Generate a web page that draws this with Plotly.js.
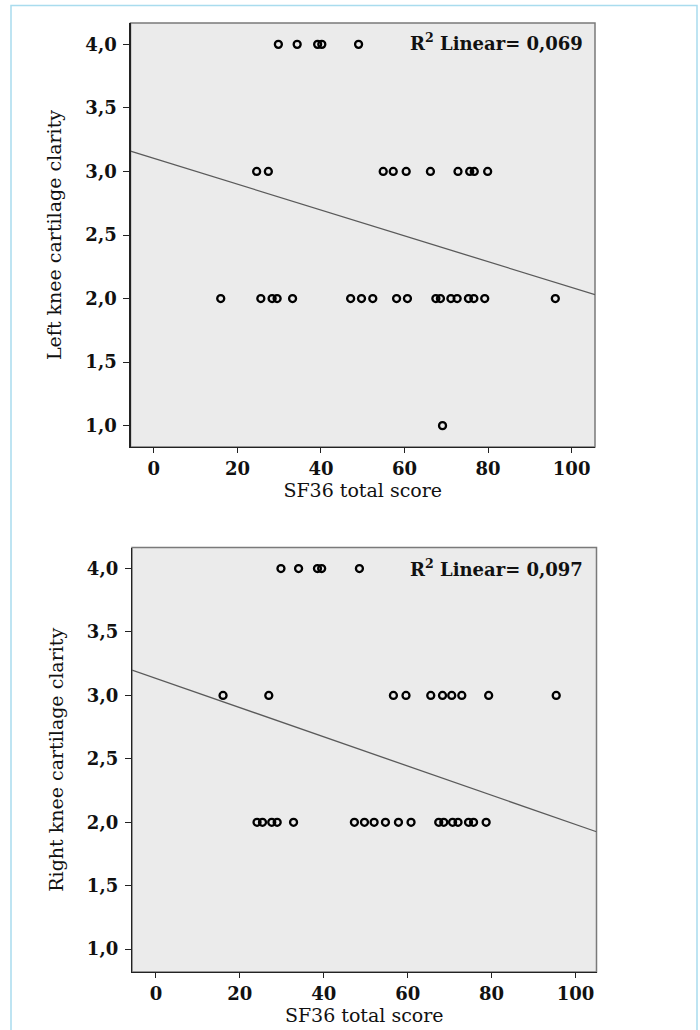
<!DOCTYPE html>
<html>
<head>
<meta charset="utf-8">
<script src="https://cdn.plot.ly/plotly-3.0.1.min.js"></script>
<style>
  html, body { margin: 0; padding: 0; background: #ffffff; }
  #chart { width: 700px; height: 1030px; }
</style>
</head>
<body>
<div id="chart"></div>
<script>
// ---- Data ----
// Left knee (top panel): SF36 total score vs cartilage clarity
const leftScore = [
  29.8, 34.3, 39.2, 40.2, 49.0,
  24.6, 27.4, 54.9, 57.3, 60.4, 66.2, 72.8, 75.6, 76.7, 79.9,
  16.0, 25.6, 28.3, 29.5, 33.2, 47.1, 49.7, 52.4, 58.1, 60.7, 67.5, 68.6, 71.1, 72.6, 75.3, 76.6, 79.2, 96.1,
  69.1
];
const leftClarity = [
  4, 4, 4, 4, 4,
  3, 3, 3, 3, 3, 3, 3, 3, 3, 3,
  2, 2, 2, 2, 2, 2, 2, 2, 2, 2, 2, 2, 2, 2, 2, 2, 2, 2,
  1
];
// Right knee (bottom panel)
const rightScore = [
  29.8, 34.0, 38.5, 39.5, 48.5,
  16.0, 26.9, 56.6, 59.6, 65.5, 68.3, 70.5, 72.9, 79.3, 95.4,
  24.1, 25.4, 27.6, 28.9, 32.8, 47.3, 49.7, 52.0, 54.7, 57.8, 60.8, 67.4, 68.6, 70.7, 72.0, 74.5, 75.7, 78.7
];
const rightClarity = [
  4, 4, 4, 4, 4,
  3, 3, 3, 3, 3, 3, 3, 3, 3, 3,
  2, 2, 2, 2, 2, 2, 2, 2, 2, 2, 2, 2, 2, 2, 2, 2, 2, 2
];
// Fit lines (intercept, slope) and R² as shown
const leftFit = [3.103, -0.01016];
const rightFit = [3.134, -0.01151];
const leftR2 = "0,069";
const rightR2 = "0,097";
const xTitle = "SF36 total score";
const leftYTitle = "Left knee cartilage clarity";
const rightYTitle = "Right knee cartilage clarity";
const yTicks = [1.0, 1.5, 2.0, 2.5, 3.0, 3.5, 4.0];
const xTicks = [0, 20, 40, 60, 80, 100];

// ---- Layout helpers ----
const W = 700, H = 1030;
const px = v => v / W;
const py = v => 1 - v / H;

const xRangeTop = [-5.6, 105.6];
const xRangeBot = [-5.7, 105.0];
const yRangeTop = [0.832, 4.168];
const yRangeBot = [0.82, 4.166];

function fitLine(fit, range, xa, ya) {
  const xs = [range[0], range[1]];
  return {
    x: xs, y: xs.map(v => fit[0] + fit[1] * v),
    xaxis: xa, yaxis: ya, mode: 'lines', type: 'scatter',
    line: { color: '#5a5a5a', width: 1.3 }, hoverinfo: 'skip', showlegend: false
  };
}
function points(xs, ys, xa, ya) {
  return {
    x: xs, y: ys, xaxis: xa, yaxis: ya, mode: 'markers', type: 'scatter',
    marker: { symbol: 'circle-open', size: 7, color: '#000', line: { width: 2.3, color: '#000' } },
    showlegend: false
  };
}

const tickFont = { family: 'DejaVu Serif', size: 18, color: '#111', weight: 'bold' };
const titleFont = { family: 'DejaVu Serif', size: 19, color: '#111' };

function xAxis(range, domain, anchor) {
  return {
    range: range, domain: domain, anchor: anchor,
    tickvals: xTicks, ticktext: xTicks.map(String),
    ticks: 'outside', ticklen: 5, tickwidth: 1, tickcolor: '#222',
    showline: true, linecolor: '#222', linewidth: 1.2,
    showgrid: false, zeroline: false, automargin: false,
    tickfont: tickFont,
    title: { text: xTitle, font: titleFont, standoff: 6 }
  };
}
function yAxis(range, domain, anchor, title) {
  return {
    range: range, domain: domain, anchor: anchor,
    tickvals: yTicks, tickformat: '.1f',
    ticks: 'outside', ticklen: 6, tickwidth: 1, tickcolor: '#222',
    showline: true, linecolor: '#222', linewidth: 1.2,
    showgrid: false, zeroline: false, automargin: false,
    tickfont: tickFont, ticklabelstandoff: 3,
    title: { text: title, font: titleFont, standoff: 18 }
  };
}

const topX = [px(130.5), px(595)];
const topY = [py(447), py(23)];
const botX = [px(132), px(596.5)];
const botY = [py(972), py(547.5)];

const data = [
  fitLine(leftFit, xRangeTop, 'x', 'y'),
  points(leftScore, leftClarity, 'x', 'y'),
  fitLine(rightFit, xRangeBot, 'x2', 'y2'),
  points(rightScore, rightClarity, 'x2', 'y2')
];

const layout = {
  width: W, height: H,
  margin: { l: 0, r: 0, t: 0, b: 0 },
  paper_bgcolor: '#ffffff',
  plot_bgcolor: '#ebebeb',
  separators: ', ',
  showlegend: false,
  xaxis: xAxis(xRangeTop, topX, 'y'),
  yaxis: yAxis(yRangeTop, topY, 'x', leftYTitle),
  xaxis2: xAxis(xRangeBot, botX, 'y2'),
  yaxis2: yAxis(yRangeBot, botY, 'x2', rightYTitle),
  shapes: [
    { type: 'rect', xref: 'paper', yref: 'paper', x0: px(11), x1: px(697), y0: -0.02, y1: py(5.5),
      line: { color: '#a9dcee', width: 1.5 }, fillcolor: 'rgba(0,0,0,0)', layer: 'below' },
    { type: 'rect', xref: 'paper', yref: 'paper', x0: topX[0], x1: topX[1], y0: topY[0], y1: topY[1],
      line: { color: '#7a7a7a', width: 1.5 }, fillcolor: 'rgba(0,0,0,0)', layer: 'below' },
    { type: 'rect', xref: 'paper', yref: 'paper', x0: botX[0], x1: botX[1], y0: botY[0], y1: botY[1],
      line: { color: '#7a7a7a', width: 1.5 }, fillcolor: 'rgba(0,0,0,0)', layer: 'below' }
  ],
  annotations: [
    { xref: 'paper', yref: 'paper', x: px(585), y: py(42), xanchor: 'right', yanchor: 'middle',
      text: 'R<sup>2</sup> Linear= ' + leftR2, showarrow: false,
      font: { family: 'DejaVu Serif', size: 18, color: '#111', weight: 'bold' } },
    { xref: 'paper', yref: 'paper', x: px(585), y: py(568), xanchor: 'right', yanchor: 'middle',
      text: 'R<sup>2</sup> Linear= ' + rightR2, showarrow: false,
      font: { family: 'DejaVu Serif', size: 18, color: '#111', weight: 'bold' } }
  ]
};

Plotly.newPlot('chart', data, layout, { displayModeBar: false, staticPlot: true });
</script>
</body>
</html>
